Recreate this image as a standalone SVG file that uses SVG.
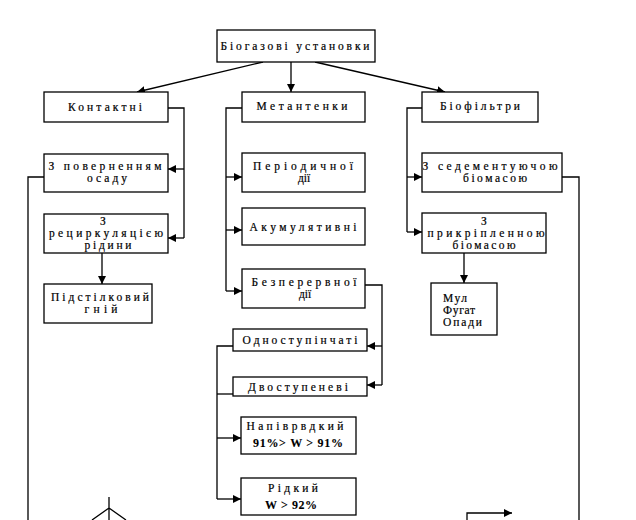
<svg xmlns="http://www.w3.org/2000/svg" width="636" height="520" viewBox="0 0 636 520">
<style>
.b{fill:#fff;stroke:#000;stroke-width:1.3}
.c{fill:none;stroke:#000;stroke-width:1.3}
text{font-family:"Liberation Serif","Times New Roman",serif;font-size:11.5px;fill:#000;stroke:#000;stroke-width:0.2}
.m{text-anchor:middle}
.bd{font-weight:bold;font-size:12px;stroke-width:0.1}
</style>
<defs>
<marker id="a" viewBox="0 0 10 10" refX="10" refY="5" markerWidth="8" markerHeight="8" markerUnits="userSpaceOnUse" orient="auto">
<path d="M0,0L10,5L0,10z" fill="#000"/>
</marker>
</defs>
<rect width="636" height="520" fill="#fff"/>
<g id="connectors">
<path class="c" d="M263,62L137,92" marker-end="url(#a)"/>
<path class="c" d="M291,62V92" marker-end="url(#a)"/>
<path class="c" d="M315,62L445,92" marker-end="url(#a)"/>
<path class="c" d="M168,108H184V238"/>
<path class="c" d="M184,169H168" marker-end="url(#a)"/>
<path class="c" d="M184,238H168" marker-end="url(#a)"/>
<path class="c" d="M44,177H28V520"/>
<path class="c" d="M102,253V284" marker-end="url(#a)"/>
<path class="c" d="M242,108H226V291"/>
<path class="c" d="M226,177H242" marker-end="url(#a)"/>
<path class="c" d="M226,230H242" marker-end="url(#a)"/>
<path class="c" d="M226,291H242" marker-end="url(#a)"/>
<path class="c" d="M365,285H382V385"/>
<path class="c" d="M382,346H367" marker-end="url(#a)"/>
<path class="c" d="M382,385H367" marker-end="url(#a)"/>
<path class="c" d="M233,346H217V499"/>
<path class="c" d="M233,394H217"/>
<path class="c" d="M217,438H241" marker-end="url(#a)"/>
<path class="c" d="M217,499H241" marker-end="url(#a)"/>
<path class="c" d="M422,108H407V232"/>
<path class="c" d="M407,177H422" marker-end="url(#a)"/>
<path class="c" d="M407,232H422" marker-end="url(#a)"/>
<path class="c" d="M562,177H579V520"/>
<path class="c" d="M464,253V283" marker-end="url(#a)"/>
<path class="c" d="M109,497V520M92,520L109,508L126,520"/>
<path class="c" d="M467,520V513H512" marker-end="url(#a)"/>
</g>
<g id="n-root"><rect class="b" x="217" y="30" width="158" height="32"/><text class="m" x="295" y="50" textLength="149">Біогазові установки</text></g>
<g id="n-kontaktni"><rect class="b" x="44" y="92" width="124" height="30"/><text class="m" x="105" y="111" textLength="74">Контактні</text></g>
<g id="n-metantenky"><rect class="b" x="242" y="92" width="123" height="30"/><text class="m" x="302" y="110" textLength="91">Метантенки</text></g>
<g id="n-biofiltry"><rect class="b" x="422" y="92" width="116" height="30"/><text class="m" x="480" y="110" textLength="80">Біофільтри</text></g>
<g id="n-povern"><rect class="b" x="44" y="154" width="124" height="38"/><text class="m" x="105" y="170" textLength="113">З поверненням</text><text class="m" x="107" y="182" textLength="40">осаду</text></g>
<g id="n-retsyrk"><rect class="b" x="44" y="214" width="124" height="39"/><text class="m" x="103" y="225">З</text><text class="m" x="106" y="237" textLength="114">рециркуляцією</text><text class="m" x="108" y="249" textLength="47">рідини</text></g>
<g id="n-pidstil"><rect class="b" x="44" y="284" width="108" height="39"/><text class="m" x="100" y="301" textLength="98">Підстілковий</text><text class="m" x="101" y="313" textLength="33">гній</text></g>
<g id="n-period"><rect class="b" x="242" y="153" width="123" height="39"/><text class="m" x="303" y="170" textLength="100">Періодичної</text><text class="m" x="304" y="182">дії</text></g>
<g id="n-akum"><rect class="b" x="242" y="208" width="123" height="37"/><text class="m" x="303" y="231" textLength="107">Акумулятивні</text></g>
<g id="n-bezper"><rect class="b" x="242" y="269" width="123" height="39"/><text class="m" x="304" y="286" textLength="105">Безперервної</text><text class="m" x="305" y="298">дії</text></g>
<g id="n-sedem"><rect class="b" x="422" y="153" width="140" height="39"/><text class="m" x="490" y="170" textLength="135">З седементуючою</text><text class="m" x="495" y="182" textLength="64">біомасою</text></g>
<g id="n-prykr"><rect class="b" x="422" y="213" width="124" height="40"/><text class="m" x="484" y="225">З</text><text class="m" x="486" y="237" textLength="117">прикріпленною</text><text class="m" x="484" y="249" textLength="63">біомасою</text></g>
<g id="n-mul"><rect class="b" x="431" y="283" width="66" height="52"/><text x="443" y="302" textLength="24">Мул</text><text x="443" y="314" textLength="32">Фугат</text><text x="443" y="326" textLength="39">Опади</text></g>
<g id="n-odno"><rect class="b" x="233" y="329" width="134" height="22"/><text class="m" x="300" y="344" textLength="115">Одноступінчаті</text></g>
<g id="n-dvo"><rect class="b" x="233" y="377" width="134" height="19"/><text class="m" x="298" y="391" textLength="100">Двоступеневі</text></g>
<g id="n-napiv"><rect class="b" x="241" y="417" width="115" height="37"/><text class="m" x="295" y="430" textLength="97">Напіврвдкий</text><text class="bd" x="253" y="447" textLength="90">91%&gt; W &gt; 91%</text></g>
<g id="n-ridky"><rect class="b" x="241" y="478" width="115" height="37"/><text class="m" x="293" y="492" textLength="50">Рідкий</text><text class="bd" x="265" y="509" textLength="52">W &gt; 92%</text></g>
</svg>
